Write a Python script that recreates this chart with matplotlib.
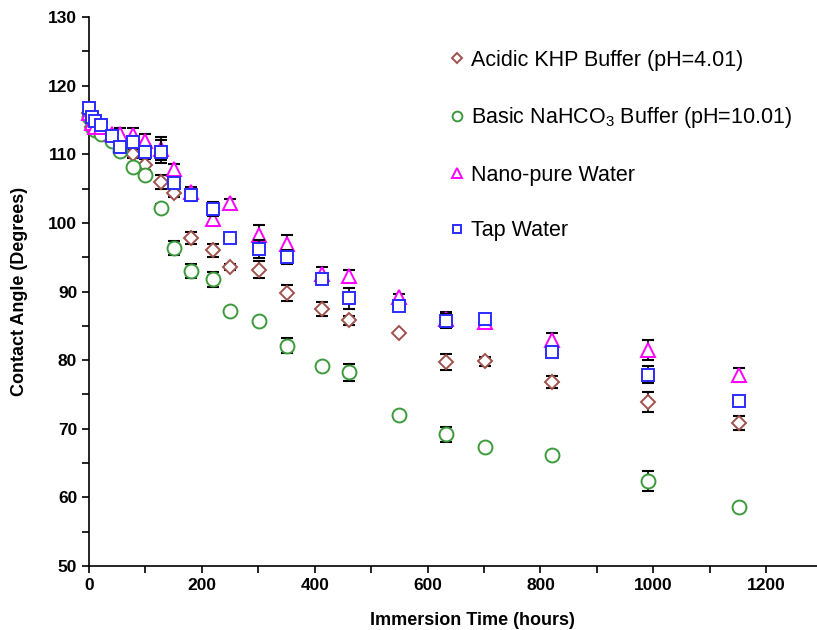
import matplotlib
matplotlib.use("Agg")
import matplotlib.pyplot as plt
from matplotlib.ticker import MultipleLocator

plt.rcParams['font.family'] = ['Liberation Sans', 'DejaVu Sans']
plt.rcParams['mathtext.fontset'] = 'custom'
plt.rcParams['mathtext.rm'] = 'Liberation Sans'

# immersion time (hours)
hours = [0, 5, 10, 22, 40, 55, 77, 100, 127, 151, 180, 220, 250, 301, 351,
         412, 460, 550, 632, 701, 820, 991, 1152]

# contact angles (degrees) and their error bars
acidic = [116.0, 114.0, 113.8, 113.5, 112.5, 111.5, 110.1, 108.5, 106.0, 104.3,
          97.8, 96.0, 93.6, 93.2, 89.8, 87.4, 85.8, 84.0, 79.7, 79.8, 76.8, 73.9, 70.8]
acidic_err = [0.0, 0.0, 0.0, 0.0, 0.4, 0.5, 0.6, 0.8, 1.0, 0.6,
              0.9, 0.9, 0.4, 1.3, 1.2, 1.0, 0.7, 0.0, 1.2, 0.7, 0.9, 1.5, 1.0]

basic = [115.5, 114.0, 113.6, 113.0, 112.0, 110.5, 108.2, 107.0, 102.2, 96.3,
         93.0, 91.8, 87.1, 85.7, 82.1, 79.1, 78.2, 72.0, 69.2, 67.4, 66.2, 62.4, 58.6]
basic_err = [0.0, 0.0, 0.0, 0.0, 0.0, 0.4, 0.4, 0.4, 0.5, 1.0,
             1.0, 1.1, 0.0, 0.0, 1.1, 0.0, 1.3, 0.0, 1.1, 0.0, 0.0, 1.4, 0.0]

nano = [116.0, 114.5, 114.0, 114.0, 113.0, 113.0, 112.8, 111.9, 110.8, 107.8,
        104.5, 100.5, 102.9, 98.2, 96.9, 92.5, 92.2, 89.2, 86.0, 85.6, 82.9, 81.5, 77.8]
nano_err = [0.0, 0.0, 0.4, 0.4, 0.6, 0.8, 1.0, 1.0, 1.7, 0.8,
            0.8, 1.0, 0.6, 1.5, 1.3, 1.0, 0.9, 0.5, 1.0, 0.0, 1.0, 1.5, 1.0]

tap = [116.7, 115.4, 114.8, 114.2, 112.6, 111.0, 111.8, 110.4, 110.4, 105.8,
       104.0, 102.0, 97.8, 96.2, 95.0, 91.8, 89.0, 87.9, 85.7, 86.0, 81.2, 77.9, 74.0]
tap_err = [0.0, 0.0, 0.0, 0.4, 0.5, 0.6, 0.8, 0.8, 1.7, 0.8,
           0.8, 1.0, 0.0, 1.3, 1.0, 0.7, 1.5, 0.0, 1.0, 0.0, 0.5, 1.2, 0.6]

labels = ['Acidic KHP Buffer (pH=4.01)',
          r'Basic NaHCO$_3$ Buffer (pH=10.01)',
          'Nano-pure Water',
          'Tap Water']

fig = plt.figure(figsize=(8.17, 6.30), dpi=100)
ax = fig.add_axes([0.109, 0.1016, 0.891, 0.8714])

series = [
    (acidic, acidic_err, 'D', '#a0524d', 7.5),
    (basic, basic_err, 'o', '#3c9a3c', 10),
    (nano, nano_err, '^', '#ff00ff', 10),
    (tap, tap_err, 's', '#2b2bff', 9),
]

handles = []
for i, ((vals, errs, mk, col, ms), lab) in enumerate(zip(series, labels)):
    ax.errorbar(hours, vals, yerr=errs, fmt='none', ecolor='black',
                elinewidth=1.2, capsize=4.5, capthick=1.5, zorder=2 + 2 * i)
    h, = ax.plot(hours, vals, linestyle='none', marker=mk, markersize=ms,
                 markerfacecolor='white', markeredgecolor=col,
                 markeredgewidth=1.4, label=lab, zorder=3 + 2 * i,
                 clip_on=False)
    handles.append(h)

ax.set_xlim(0, 1290)
ax.set_ylim(50, 130)
ax.xaxis.set_major_locator(MultipleLocator(200))
ax.xaxis.set_minor_locator(MultipleLocator(100))
ax.yaxis.set_major_locator(MultipleLocator(10))
ax.yaxis.set_minor_locator(MultipleLocator(5))
ax.tick_params(which='both', direction='out', length=5, width=1.2)
ax.tick_params(labelsize=12.5)
for lbl in ax.get_xticklabels() + ax.get_yticklabels():
    lbl.set_fontweight('bold')

ax.spines['top'].set_visible(False)
ax.spines['right'].set_visible(False)
ax.spines['left'].set_linewidth(1.2)
ax.spines['bottom'].set_linewidth(1.2)

ax.set_xlabel('Immersion Time (hours)', fontsize=13, fontweight='bold')
ax.xaxis.set_label_coords(0.527, -0.083)
ax.set_ylabel('Contact Angle (Degrees)', fontsize=13, fontweight='bold')
ax.yaxis.set_label_coords(-0.084, 0.5)

leg = ax.legend(handles=handles, loc='upper left', bbox_to_anchor=(0.5, 0.94),
                frameon=False, fontsize=15.5, labelspacing=1.6,
                handlelength=0.4, handletextpad=0.45, markerscale=0.7,
                borderaxespad=0, borderpad=0)

fig.savefig('out.png', dpi=100)
